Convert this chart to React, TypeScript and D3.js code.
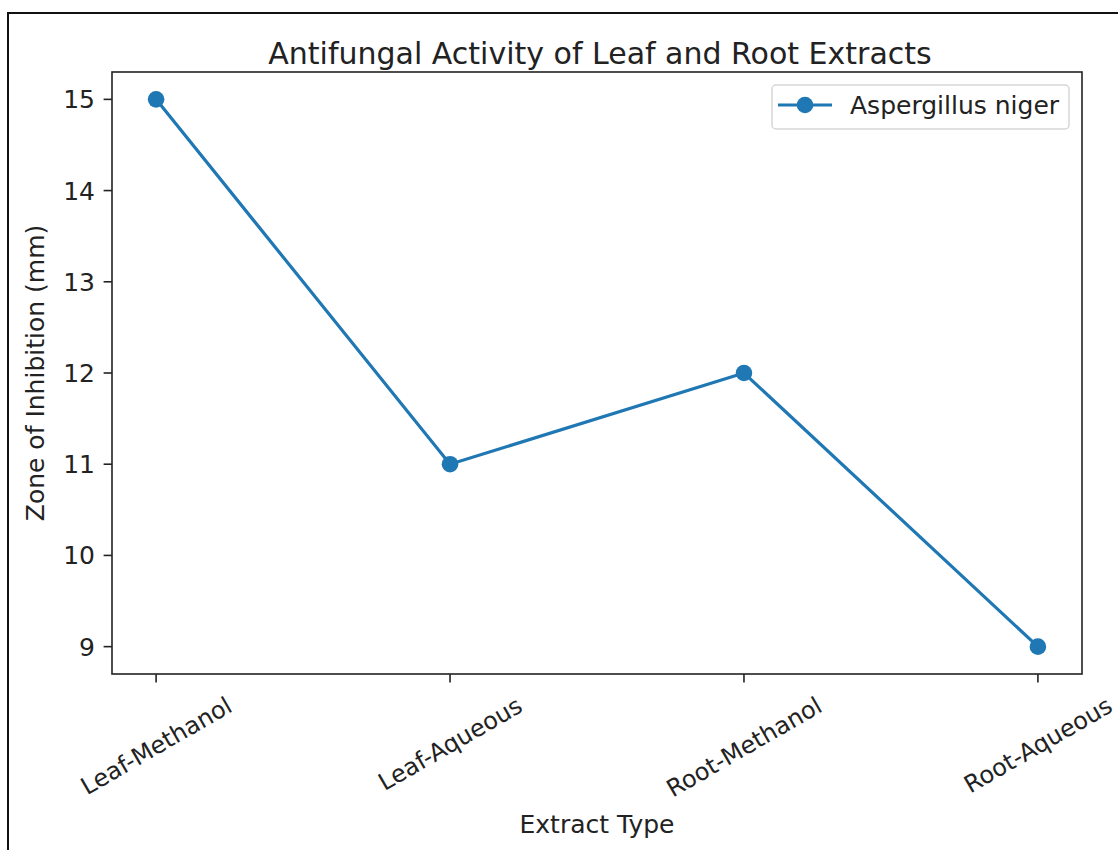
import React, { useEffect, useRef } from "react";
import * as d3 from "d3";

const categories = ["Leaf-Methanol", "Leaf-Aqueous", "Root-Methanol", "Root-Aqueous"];
const values = [15, 11, 12, 9];
const yTicks = [9, 10, 11, 12, 13, 14, 15];
const seriesName = "Aspergillus niger";
const title = "Antifungal Activity of Leaf and Root Extracts";
const xLabel = "Extract Type";
const yLabel = "Zone of Inhibition (mm)";

const W = 1118;
const H = 850;
const FONT = "DejaVu Sans, sans-serif";
const BLUE = "#1f77b4";
const TEXT = "#222";

export default function App() {
  const ref = useRef<SVGSVGElement | null>(null);

  useEffect(() => {
    const svg = d3.select(ref.current);
    svg.selectAll("*").remove();

    const plot = { left: 112, right: 1082, top: 72, bottom: 674 };

    // outer frame
    svg.append("rect").attr("width", W).attr("height", H).attr("fill", "#fff");
    svg.append("rect")
      .attr("x", 8).attr("y", 13)
      .attr("width", W + 20).attr("height", H + 20)
      .attr("fill", "none").attr("stroke", "#111").attr("stroke-width", 2);

    const x = d3.scaleLinear()
      .domain([-0.15, categories.length - 1 + 0.15])
      .range([plot.left, plot.right]);
    const y = d3.scaleLinear()
      .domain([9 - 0.3, 15 + 0.3])
      .range([plot.bottom, plot.top]);

    // y axis ticks
    const yAxis = svg.append("g");
    yTicks.forEach(t => {
      yAxis.append("line")
        .attr("x1", plot.left - 8.4).attr("x2", plot.left)
        .attr("y1", y(t)).attr("y2", y(t))
        .attr("stroke", TEXT).attr("stroke-width", 1.6);
      yAxis.append("text")
        .attr("x", plot.left - 17).attr("y", y(t))
        .attr("dy", "0.36em")
        .attr("text-anchor", "end")
        .style("font-family", FONT).style("font-size", "25px")
        .attr("fill", TEXT)
        .text(t);
    });

    // x axis ticks + rotated labels
    const xAxis = svg.append("g");
    categories.forEach((c, i) => {
      const px = x(i);
      xAxis.append("line")
        .attr("x1", px).attr("x2", px)
        .attr("y1", plot.bottom).attr("y2", plot.bottom + 8.4)
        .attr("stroke", TEXT).attr("stroke-width", 1.6);
      const t = xAxis.append("text")
        .attr("text-anchor", "middle")
        .attr("dy", "0.36em")
        .style("font-family", FONT).style("font-size", "24px")
        .attr("fill", TEXT)
        .text(c);
      const w = (t.node() as SVGTextElement).getComputedTextLength();
      const h = 28;
      const bh = w * 0.5 + h * 0.866;
      const cy = plot.bottom + 17 + bh / 2;
      t.attr("transform", `translate(${px},${cy}) rotate(-30)`);
    });

    // axes frame
    svg.append("rect")
      .attr("x", plot.left).attr("y", plot.top)
      .attr("width", plot.right - plot.left).attr("height", plot.bottom - plot.top)
      .attr("fill", "none").attr("stroke", TEXT).attr("stroke-width", 1.6);

    // line + markers
    const line = d3.line<number>()
      .x((d, i) => x(i))
      .y(d => y(d));
    svg.append("path")
      .datum(values)
      .attr("d", line)
      .attr("fill", "none")
      .attr("stroke", BLUE)
      .attr("stroke-width", 3.2);
    svg.append("g")
      .selectAll("circle")
      .data(values)
      .enter().append("circle")
      .attr("cx", (d, i) => x(i))
      .attr("cy", d => y(d))
      .attr("r", 8.3)
      .attr("fill", BLUE);

    // title and axis labels
    svg.append("text")
      .attr("x", (plot.left + plot.right) / 2 + 3).attr("y", 64)
      .attr("text-anchor", "middle")
      .style("font-family", FONT).style("font-size", "30px")
      .attr("fill", TEXT)
      .text(title);
    svg.append("text")
      .attr("x", (plot.left + plot.right) / 2).attr("y", 833)
      .attr("text-anchor", "middle")
      .style("font-family", FONT).style("font-size", "25px")
      .attr("fill", TEXT)
      .text(xLabel);
    svg.append("text")
      .attr("transform", `translate(44,${(plot.top + plot.bottom) / 2}) rotate(-90)`)
      .attr("text-anchor", "middle")
      .style("font-family", FONT).style("font-size", "25px")
      .attr("fill", TEXT)
      .text(yLabel);

    // legend
    const lg = svg.append("g");
    lg.append("rect")
      .attr("x", 772).attr("y", 85)
      .attr("width", 297).attr("height", 44)
      .attr("rx", 4)
      .attr("fill", "#fff").attr("fill-opacity", 0.8)
      .attr("stroke", "#d6d6d6").attr("stroke-width", 1.5);
    lg.append("line")
      .attr("x1", 778).attr("x2", 832)
      .attr("y1", 105).attr("y2", 105)
      .attr("stroke", BLUE).attr("stroke-width", 3.2);
    lg.append("circle")
      .attr("cx", 805).attr("cy", 105).attr("r", 8.3)
      .attr("fill", BLUE);
    lg.append("text")
      .attr("x", 850).attr("y", 114)
      .style("font-family", FONT).style("font-size", "25px")
      .attr("fill", TEXT)
      .text(seriesName);
  }, []);

  return (
    <svg
      ref={ref}
      width={W}
      height={H}
      style={{ position: "absolute", left: 0, top: 0, display: "block" }}
    />
  );
}
